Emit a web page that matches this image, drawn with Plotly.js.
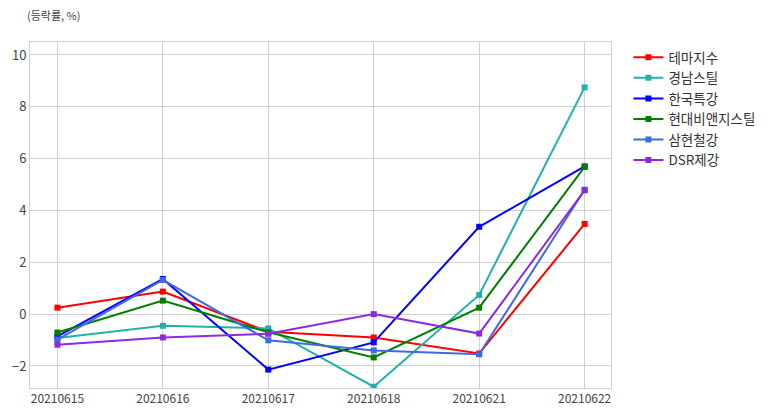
<!DOCTYPE html>
<html><head><meta charset="utf-8">
<script src="https://cdn.plot.ly/plotly-3.0.1.min.js"></script>
<style>html,body{margin:0;padding:0;background:#fff}#c{width:782px;height:416px}</style>
</head><body><div id="c"></div>
<script>
const dates = ["20210615","20210616","20210617","20210618","20210621","20210622"];
const names = ["테마지수","경남스틸","한국특강","현대비앤지스틸","삼현철강","DSR제강"];
const colors = ["#ff0000","#20b2aa","#0000ff","#008000","#4169e1","#8a2be2"];
const themeIdx = [0.25, 0.87, -0.68, -0.9, -1.52, 3.48];
const kyungnam = [-0.92, -0.45, -0.55, -2.8, 0.74, 8.75];
const hankook = [-0.86, 1.36, -2.14, -1.09, 3.37, 5.7];
const hyundai = [-0.71, 0.52, -0.7, -1.67, 0.25, 5.68];
const samhyun = [-0.98, 1.32, -1.01, -1.4, -1.55, 4.8];
const dsr = [-1.18, -0.9, -0.76, 0.0, -0.75, 4.78];
const series = [themeIdx, kyungnam, hankook, hyundai, samhyun, dsr];

const traces = series.map((v,i)=>({
  x: dates, y: v, name: names[i], type:'scatter', mode:'lines+markers',
  line:{color:colors[i], width:2},
  marker:{symbol:'square', size:6, color:colors[i]}
}));

const layout = {
  width:782, height:416,
  margin:{l:30, r:171, t:42, b:28},
  paper_bgcolor:'#fff', plot_bgcolor:'#fff',
  font:{family:'"Noto Sans CJK KR", "Noto Sans", sans-serif', color:'#444', size:12},
  title:{text:'(등락률, %)', x:27/782, xanchor:'left', y:1-16/416, yanchor:'middle', font:{size:11, color:'#444'}},
  xaxis:{type:'category', range:[-0.26,5.25], showgrid:true, gridcolor:'#d0d0d0', gridwidth:1,
    showline:true, linecolor:'#d0d0d0', mirror:true, ticks:'', tickfont:{size:12, color:'#444'}, zeroline:false},
  yaxis:{range:[-2.85,10.5], dtick:2, showgrid:true, gridcolor:'#d0d0d0', gridwidth:1,
    showline:true, linecolor:'#d0d0d0', mirror:true, ticks:'', zeroline:false, tickfont:{size:13, color:'#444'}},
  legend:{x:1.03, xanchor:'left', y:1.0, yanchor:'top', font:{size:13.5, color:'#333'},
    tracegroupgap:0, itemwidth:30, bgcolor:'rgba(0,0,0,0)'},
  showlegend:true
};
Plotly.newPlot('c', traces, layout, {displayModeBar:false, staticPlot:true});
</script></body></html>
